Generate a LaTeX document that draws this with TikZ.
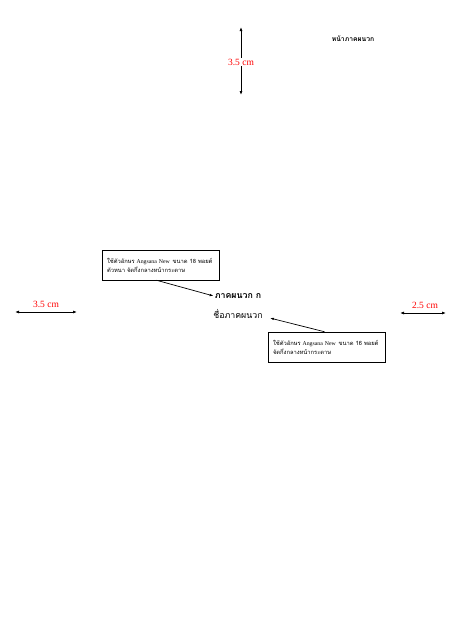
\documentclass[tikz,border=0pt]{standalone}
\usepackage{fontspec}
\setmainfont{Liberation Serif}
\newfontfamily\thai[Script=Thai]{Loma}
\usetikzlibrary{arrows.meta}
\begin{document}
\begin{tikzpicture}[x=1pt,y=-1pt,
  dim/.style={{Latex[length=4pt,width=3pt]}-{Latex[length=4pt,width=3pt]}, line width=0.8pt},
  dimlbl/.style={text=red, font=\fontsize{9.5}{10}\selectfont, inner sep=1pt},
  note/.style={draw, line width=0.5pt, align=left, inner xsep=5pt, inner ysep=3pt, font=\thai\fontsize{5.8}{9}\selectfont, text width=107pt, minimum height=30pt},
  ptr/.style={-{Latex[length=4pt,width=2.5pt]}, line width=0.7pt}]
\useasboundingbox (0,0) rectangle (453,640);
% top dimension
\coordinate (t1) at (241,27);
\coordinate (t2) at (241,95);
\draw[dim] (t1) -- (t2);
\node[dimlbl, fill=white] (tl) at (241,62) {3.5 cm};
% left dimension
\coordinate (l1) at (15,312);
\coordinate (l2) at (77,312);
\draw[dim] (l1) -- (l2);
\node[dimlbl] (ll) at (46,304) {3.5 cm};
% right dimension
\coordinate (r1) at (400,313);
\coordinate (r2) at (446,313);
\draw[dim] (r1) -- (r2);
\node[dimlbl] (rl) at (425,305) {2.5 cm};
% header
\node[font=\thai\bfseries\fontsize{6.8}{8}\selectfont] (hdr) at (353,39) {หน้าภาคผนวก};
% titles
\node[font=\thai\bfseries\fontsize{8.8}{10}\selectfont, inner sep=1pt] (t) at (238,296) {ภาคผนวก ก};
\node[font=\thai\fontsize{8.8}{10}\selectfont, inner sep=1pt] (n) at (238,314) {ชื่อภาคผนวก};
% notes
\node[note] (b1) at (160.5,265) {ใช้ตัวอักษร {\rmfamily Angsana New}\, ขนาด 18 พอยต์\\ตัวหนา จัดกึ่งกลางหน้ากระดาษ};
\node[note] (b2) at (326.5,347) {ใช้ตัวอักษร {\rmfamily Angsana New}\, ขนาด 16 พอยต์\\จัดกึ่งกลางหน้ากระดาษ};
\draw[ptr] (b1.south) ++(-4,0) coordinate (s1) -- (t.west);
\draw[ptr] (b2.north) ++(-2,0) coordinate (s2) -- ([shift={(6,4)}]n.east);
\end{tikzpicture}
\end{document}
